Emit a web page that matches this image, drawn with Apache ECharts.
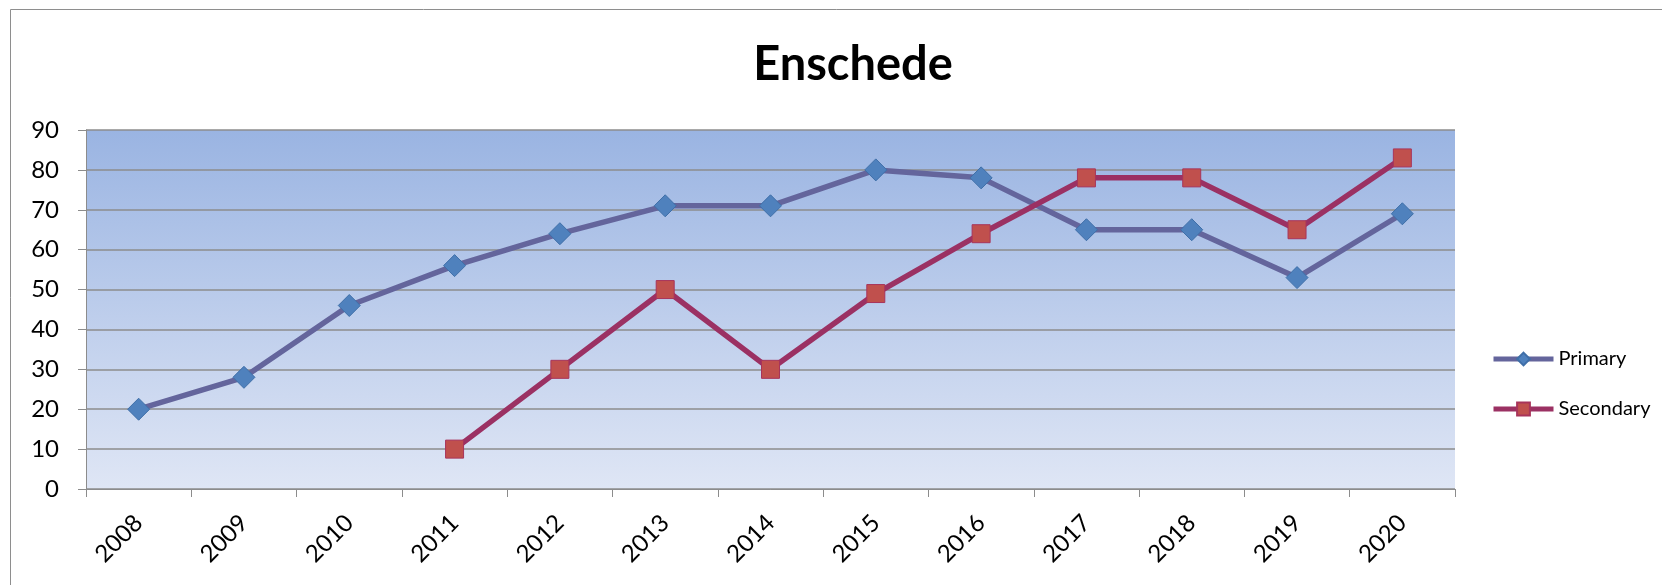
<!DOCTYPE html>
<html>
<head>
<meta charset="utf-8">
<script src="https://cdn.jsdelivr.net/npm/echarts@6/dist/echarts.min.js"></script>
<style>
  html, body { margin: 0; padding: 0; background: #fff; }
  #chart { width: 1662px; height: 585px; }
</style>
</head>
<body>
<div id="chart"></div>
<script>
const years = ['2008', '2009', '2010', '2011', '2012', '2013', '2014', '2015', '2016', '2017', '2018', '2019', '2020'];
const primary = [20, 28, 46, 56, 64, 71, 71, 80, 78, 65, 65, 53, 69];
const secondary = [null, null, null, 10, 30, 50, 30, 49, 64, 78, 78, 65, 83];
const yTicks = { min: 0, max: 90, step: 10 };

const font = 'Lato, "Open Sans", sans-serif';
const chart = echarts.init(document.getElementById('chart'));

chart.setOption({
  animation: false,
  textStyle: { fontFamily: font, color: '#000' },
  graphic: [
    {
      type: 'rect',
      shape: { x: 10.5, y: 9.5, width: 1800, height: 800 },
      style: { fill: 'none', stroke: '#8e8e8e', lineWidth: 1 },
      silent: true,
    },
  ],
  title: {
    text: 'Enschede',
    left: 848,
    textAlign: 'center',
    top: 36,
    textStyle: { fontSize: 47, fontWeight: 'bold', fontFamily: font, color: '#000' },
  },
  legend: {
    orient: 'vertical',
    left: 1486,
    top: 344,
    itemWidth: 60,
    itemHeight: 16,
    itemGap: 30,
    lineStyle: { width: 5 },
    textStyle: { fontSize: 20, fontFamily: font, color: '#000', padding: [0, 0, 0, 0] },
    data: ['Primary', 'Secondary'],
  },
  grid: {
    left: 86,
    right: 207,
    top: 130,
    bottom: 96,
    show: true,
    borderWidth: 0,
    backgroundColor: new echarts.graphic.LinearGradient(0, 0, 0, 1, [
      { offset: 0, color: '#9ab4e2' },
      { offset: 1, color: '#dfe6f5' },
    ]),
  },
  xAxis: {
    type: 'category',
    data: years,
    boundaryGap: true,
    axisLine: { lineStyle: { color: '#8c8c8c', width: 1 } },
    axisTick: { show: true, length: 8, lineStyle: { color: '#8c8c8c' } },
    axisLabel: { rotate: 45, fontSize: 24, margin: 30, color: '#000', fontFamily: font },
    splitLine: { show: false },
  },
  yAxis: {
    type: 'value',
    min: yTicks.min,
    max: yTicks.max,
    interval: yTicks.step,
    axisLine: { show: true, lineStyle: { color: '#8c8c8c', width: 1 } },
    axisTick: { show: true, length: 8, lineStyle: { color: '#8c8c8c' } },
    axisLabel: { fontSize: 24, margin: 27, color: '#000', fontFamily: font },
    splitLine: { show: true, lineStyle: { color: '#8c8c8c', width: 1.5 } },
  },
  series: [
    {
      name: 'Primary',
      type: 'line',
      data: primary,
      symbol: 'diamond',
      symbolSize: 22,
      lineStyle: { color: '#64659c', width: 5.5 },
      itemStyle: { color: '#4f81bd', borderColor: '#3f6fa8', borderWidth: 1 },
    },
    {
      name: 'Secondary',
      type: 'line',
      data: secondary,
      symbol: 'rect',
      symbolSize: 18,
      lineStyle: { color: '#9b3163', width: 5.5 },
      itemStyle: { color: '#c0504d', borderColor: '#a8345a', borderWidth: 1 },
    },
  ],
});
</script>
</body>
</html>
